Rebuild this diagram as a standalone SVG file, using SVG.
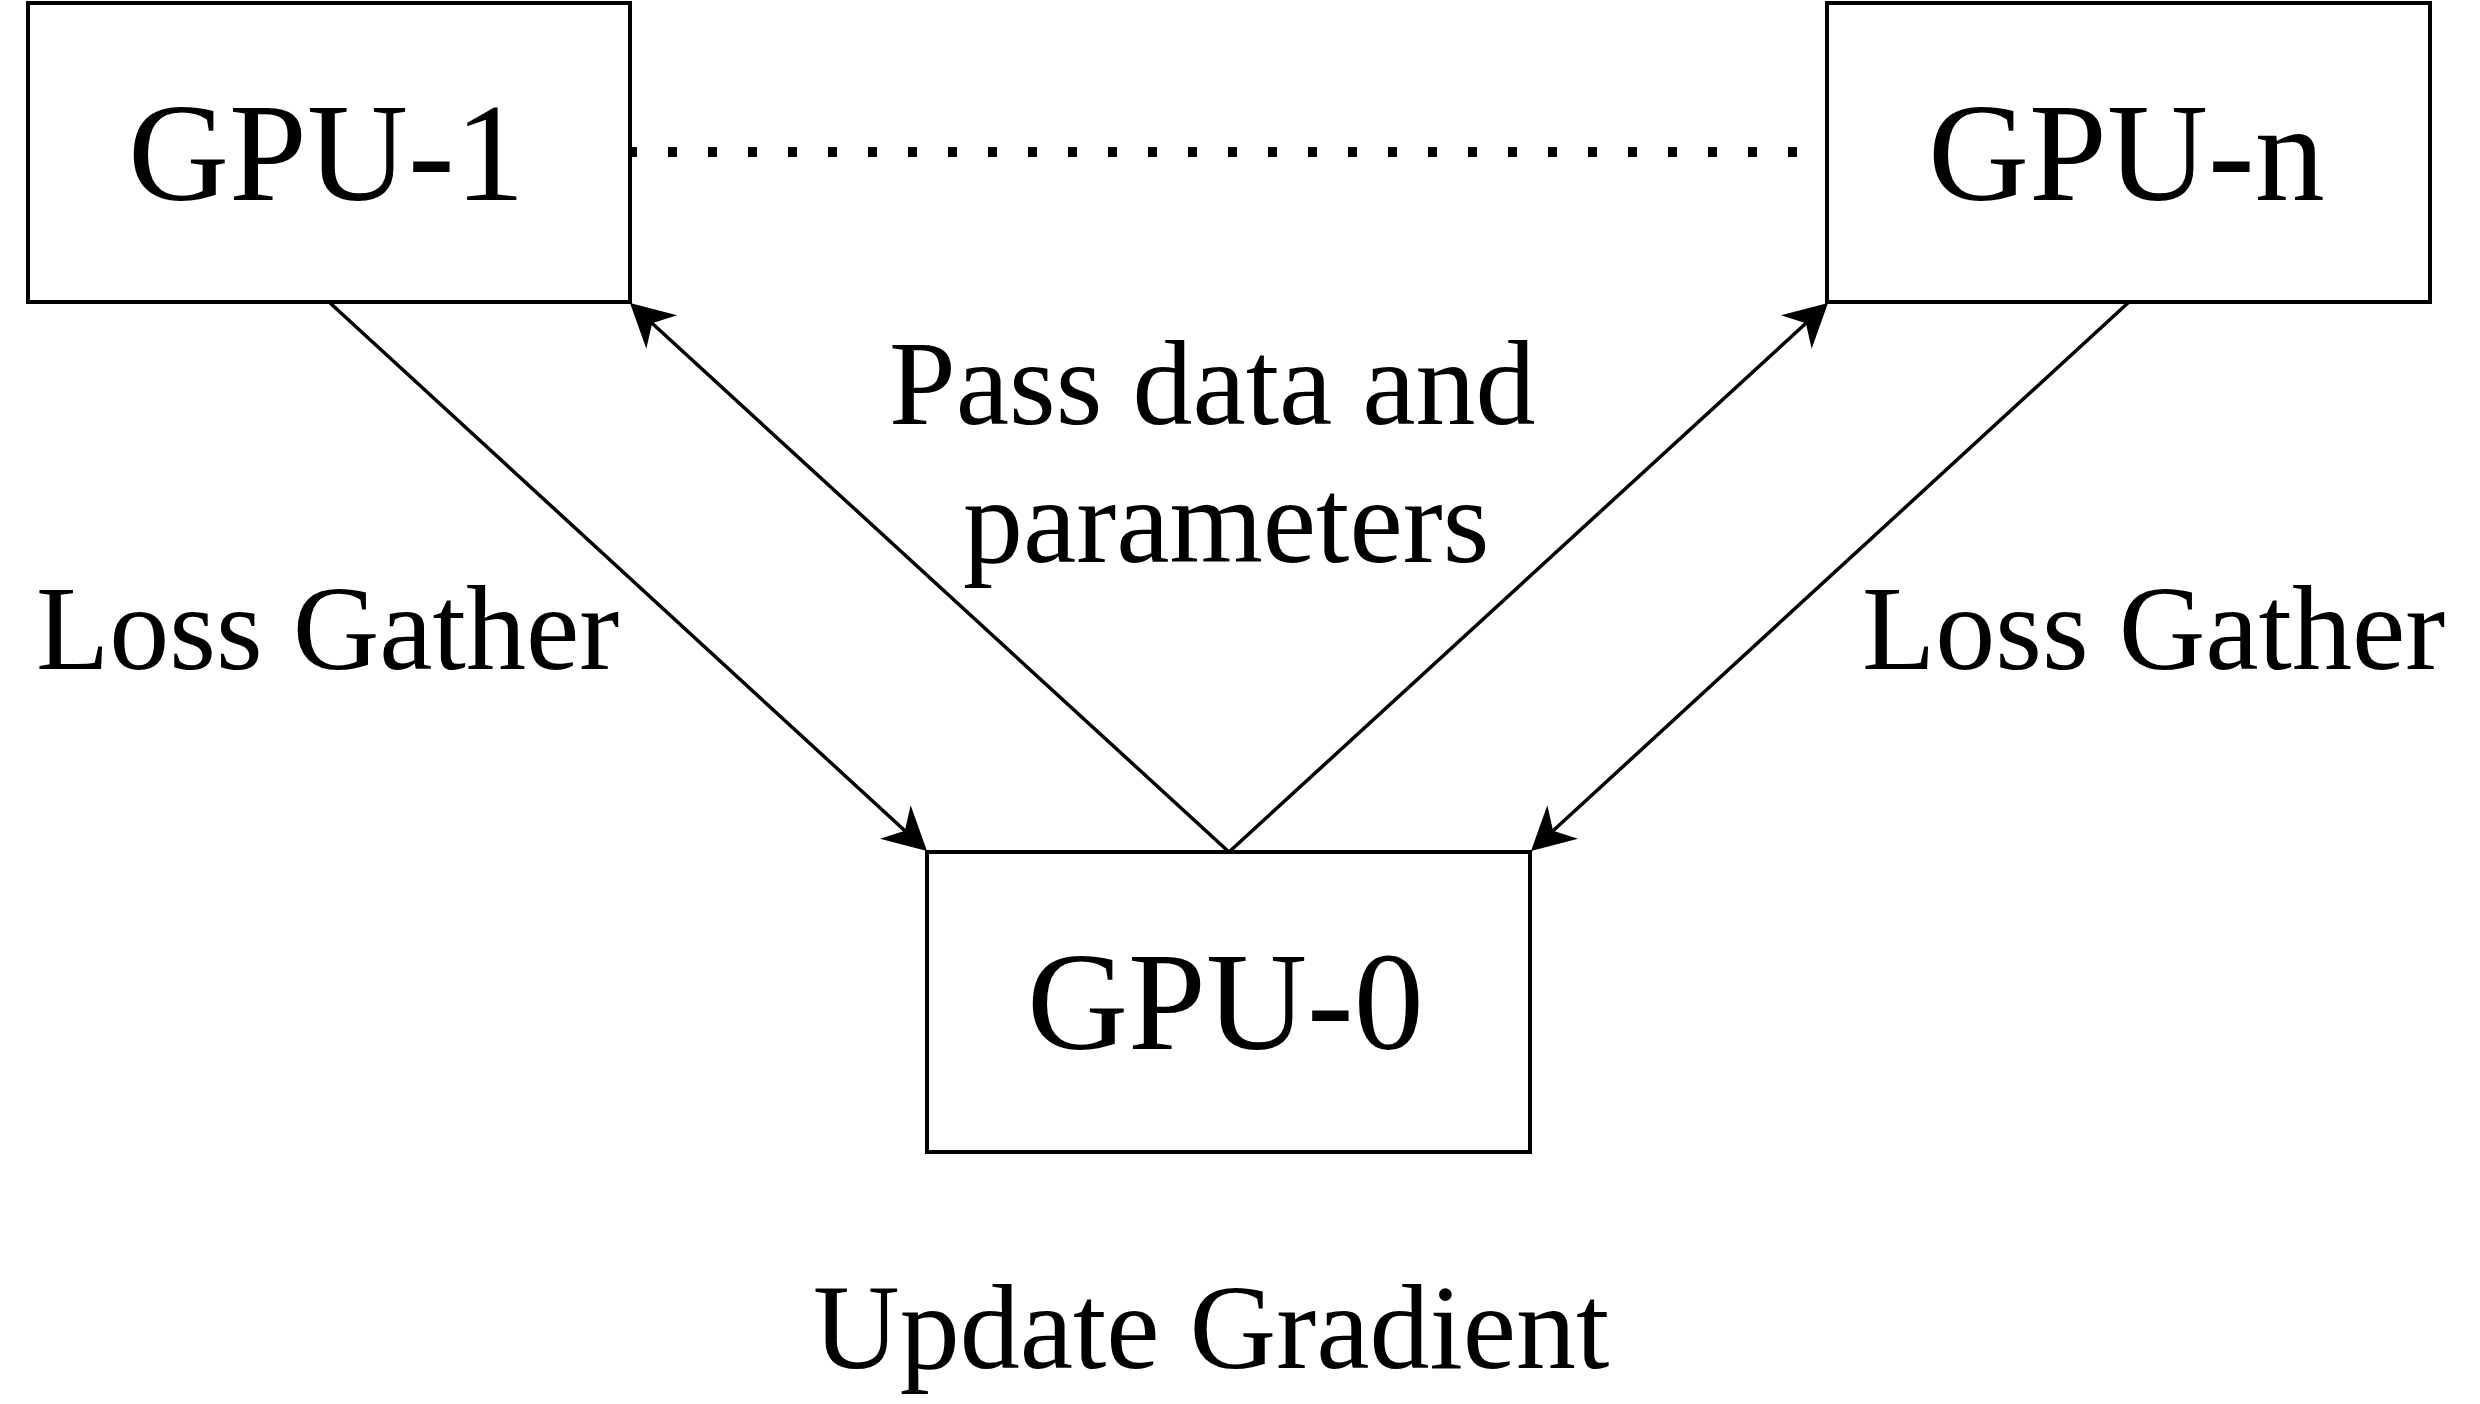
<svg xmlns="http://www.w3.org/2000/svg" width="2480" height="1404" viewBox="0 0 2480 1404">
  <style>
    .box { fill: #ffffff; stroke: #000000; stroke-width: 4; }
    .lbl { font-family: "Liberation Serif", "Times New Roman", serif; fill: #000000; }
    .big { font-size: 140px; }
    .mid { font-size: 120px; }
    .edge { fill: none; stroke: #000000; stroke-width: 3.5; }
    .dots { fill: none; stroke: #000000; stroke-width: 10; stroke-dasharray: 9 31; }
  </style>
  <defs>
    <marker id="arrow" markerUnits="userSpaceOnUse" markerWidth="50" markerHeight="50" refX="13" refY="0" orient="auto" overflow="visible">
      <path d="M0,-22.7 L43,0 L0,22.7 L13,0 Z" fill="#000000"/>
    </marker>
  </defs>
  <rect width="2480" height="1404" fill="#ffffff"/>

  <g id="connectors">
    <line class="dots" x1="628" y1="152" x2="1827" y2="152"/>
    <line class="edge" x1="329" y1="302" x2="904.9" y2="830.7" marker-end="url(#arrow)"/>
    <line class="edge" x1="1229" y1="852" x2="652.1" y2="323.3" marker-end="url(#arrow)"/>
    <line class="edge" x1="1229" y1="852" x2="1805.9" y2="323.3" marker-end="url(#arrow)"/>
    <line class="edge" x1="2129" y1="302" x2="1553.1" y2="830.7" marker-end="url(#arrow)"/>
  </g>

  <g id="gpu1">
    <rect class="box" x="28" y="3" width="602" height="299"/>
    <text class="lbl big" x="128" y="200">GPU-1</text>
  </g>
  <g id="gpun">
    <rect class="box" x="1827" y="3" width="603" height="299"/>
    <text class="lbl big" x="1928" y="200">GPU-n</text>
  </g>
  <g id="gpu0">
    <rect class="box" x="927" y="852" width="603" height="300"/>
    <text class="lbl big" x="1027" y="1049">GPU-0</text>
  </g>

  <g id="labels">
    <text class="lbl mid" x="36" y="669">Loss Gather</text>
    <text class="lbl mid" x="1862" y="669">Loss Gather</text>
    <text class="lbl mid" x="889" y="424">Pass data and</text>
    <text class="lbl mid" x="963" y="562">parameters</text>
    <text class="lbl mid" x="813" y="1368">Update Gradient</text>
  </g>
</svg>
